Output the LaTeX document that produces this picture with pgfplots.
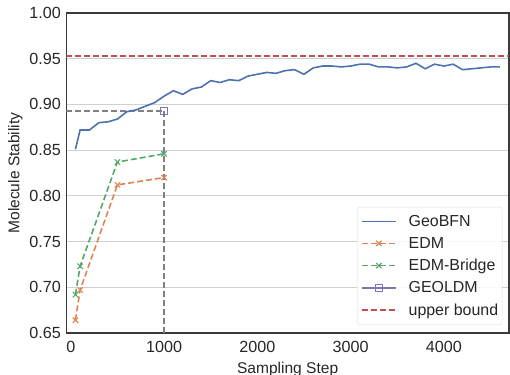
\documentclass[border=0pt]{standalone}
\usepackage{pgfplots}
\pgfplotsset{compat=1.18}
\usepackage{fontspec}
\setmainfont{Liberation Sans}
\definecolor{sbblue}{HTML}{4C72B0}
\definecolor{sborange}{HTML}{DD8452}
\definecolor{sbgreen}{HTML}{55A868}
\definecolor{sbpurple}{HTML}{8172B3}
\definecolor{sbred}{HTML}{C44E52}
\definecolor{framecol}{HTML}{3A3A3A}
\definecolor{gridcol}{HTML}{D0D0D0}
\begin{document}
\begin{tikzpicture}
\begin{axis}[
  scale only axis,
  width=442.7bp, height=320bp,
  xmin=-48, xmax=4698,
  ymin=0.65, ymax=1.00,
  xtick={0,1000,2000,3000,4000},
  ytick={0.65,0.70,0.75,0.80,0.85,0.90,0.95,1.00},
  yticklabel style={/pgf/number format/fixed,/pgf/number format/fixed zerofill,/pgf/number format/precision=2, xshift=-2bp},
  xticklabel style={/pgf/number format/1000 sep={}, yshift=-4.5bp},
  /pgf/number format/assume math mode=true,
  major tick length=0pt,
  ymajorgrids, xmajorgrids=false,
  grid style={gridcol, line width=0.9bp},
  axis line style={framecol, line width=1.1bp},
  tick label style={font=\fontsize{16.2}{19}\selectfont, text=black!85},
  label style={font=\fontsize{15.6}{19}\selectfont, text=black!85},
  xlabel={Sampling Step},
  xlabel style={yshift=-3bp},
  ylabel={Molecule Stability},
  legend cell align=left,
  legend style={at={(rel axis cs:0.985,0.025)}, anchor=south east,
    draw=gray!25, rounded corners=3pt, fill=white, fill opacity=0.85, text opacity=1,
    font=\fontsize{16}{19}\selectfont, text=black!85,
    row sep=5.5bp, inner xsep=2bp, inner ysep=6bp},
  legend image code/.code={\path (-2bp,0bp) (44bp,0bp); \draw[mark repeat=2,mark phase=2,#1] plot coordinates {(0bp,0bp) (17bp,0bp) (34bp,0bp)};},
]
% reference lines for GEOLDM
\addplot[forget plot, color=gray, line width=1.6bp, dash pattern=on 6bp off 3bp] coordinates {(-48,0.893) (1000,0.893)};
\addplot[forget plot, color=gray, line width=1.6bp, dash pattern=on 6bp off 3bp] coordinates {(1000,0.65) (1000,0.893)};
\addplot[sbblue, line width=1.6bp, mark=none] coordinates {
(50,0.851) (100,0.872) (200,0.872) (300,0.880) (400,0.881) (500,0.884) (600,0.892) (700,0.894) (800,0.898) (900,0.902)
(1000,0.909) (1100,0.915) (1200,0.911) (1300,0.917) (1400,0.919) (1500,0.926) (1600,0.924) (1700,0.927) (1800,0.926) (1900,0.931)
(2000,0.933) (2100,0.935) (2200,0.934) (2300,0.937) (2400,0.938) (2500,0.933) (2600,0.940) (2700,0.942) (2800,0.942) (2900,0.941)
(3000,0.942) (3100,0.944) (3200,0.944) (3300,0.941) (3400,0.941) (3500,0.940) (3600,0.941) (3700,0.945) (3800,0.939) (3900,0.944)
(4000,0.942) (4100,0.944) (4200,0.938) (4300,0.939) (4400,0.940) (4500,0.941) (4600,0.941)};
\addlegendentry{GeoBFN}
\addplot[sborange, line width=1.6bp, dash pattern=on 6bp off 3bp, mark=x, mark size=3.8bp, mark options={solid, line width=1.1bp}] coordinates {
(50,0.664) (100,0.697) (500,0.812) (1000,0.820)};
\addlegendentry{EDM}
\addplot[sbgreen, line width=1.6bp, dash pattern=on 6bp off 3bp, mark=x, mark size=3.8bp, mark options={solid, line width=1.1bp}] coordinates {
(50,0.692) (100,0.723) (500,0.837) (1000,0.846)};
\addlegendentry{EDM-Bridge}
\addplot[sbpurple, line width=1.6bp, mark=square, mark size=3.5bp, mark options={solid, fill=white, line width=1.1bp}] coordinates {
(1000,0.893)};
\addlegendentry{GEOLDM}
\addplot[sbred, line width=1.6bp, dash pattern=on 6bp off 3bp] coordinates {(-48,0.953) (4698,0.953)};
\addlegendentry{upper bound}
\end{axis}
\pgfresetboundingbox
\path ([shift={(-66.3bp,-42bp)}]current axis.south west) rectangle ([shift={(1bp,13bp)}]current axis.north east);
\end{tikzpicture}
\end{document}
